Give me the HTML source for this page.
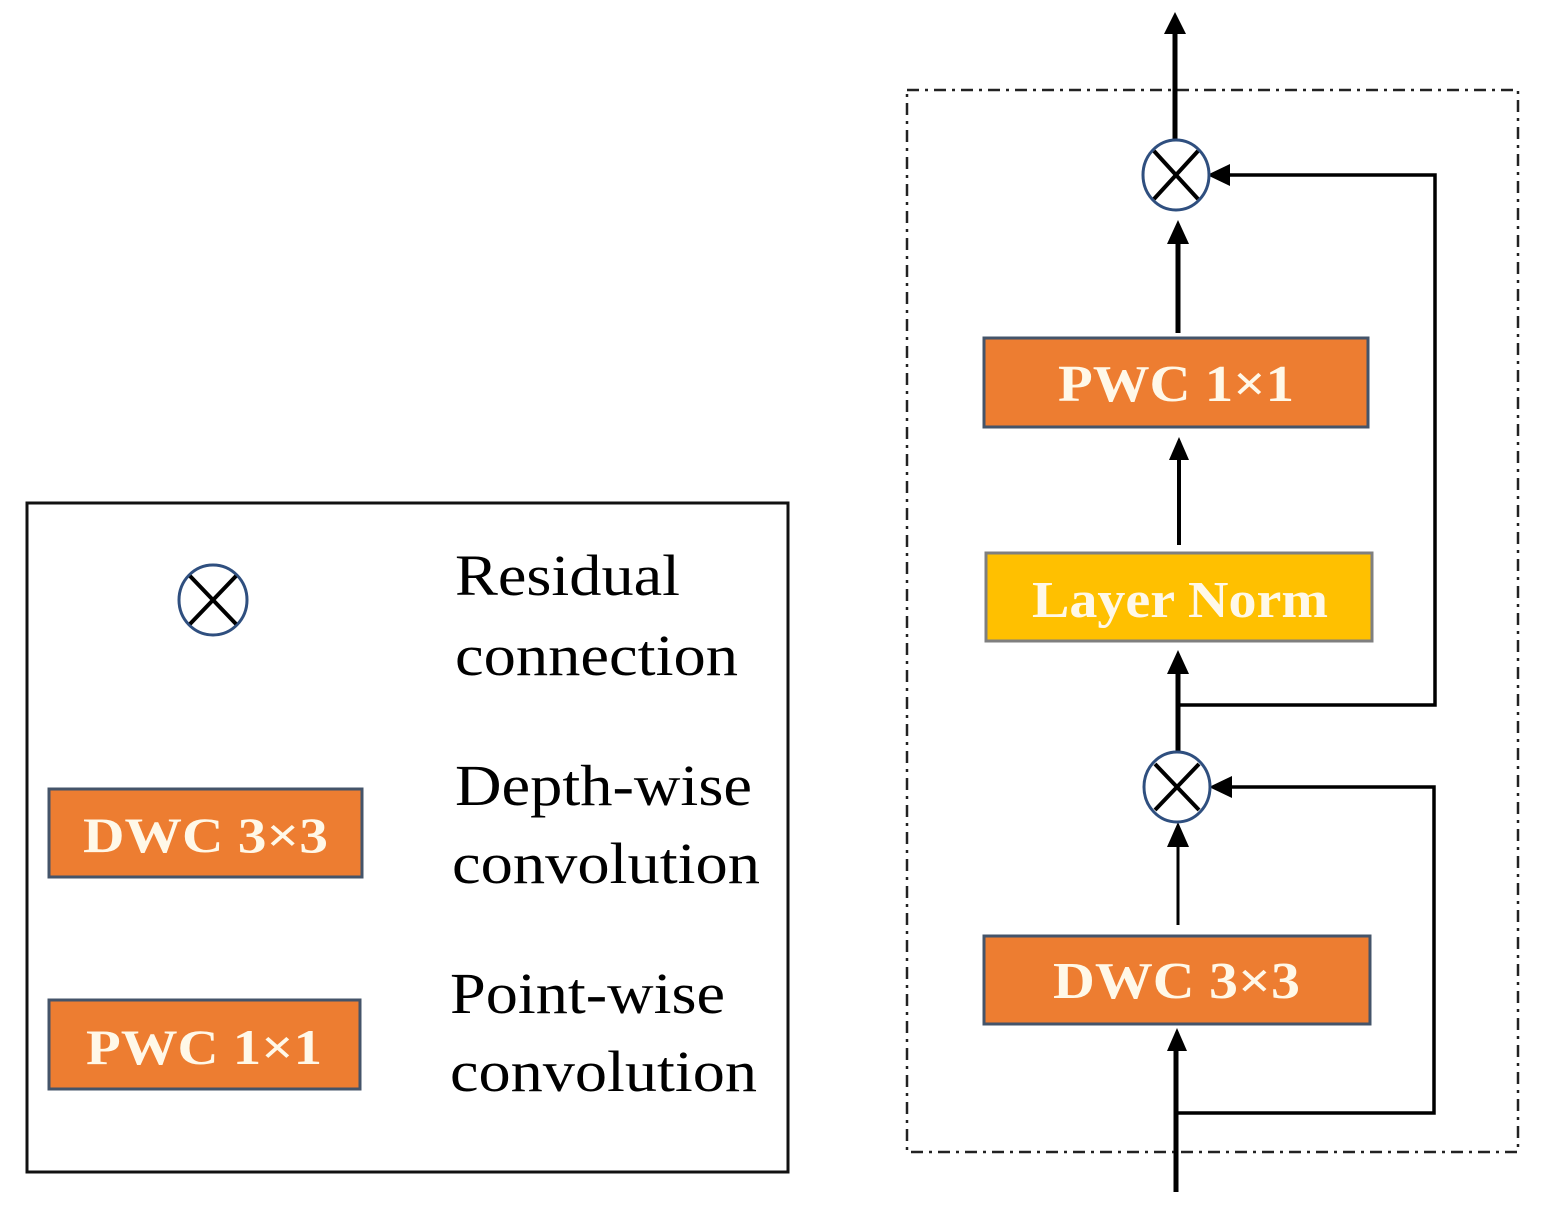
<!DOCTYPE html>
<html><head><style>html,body{margin:0;padding:0;background:#fff;}</style></head>
<body>
<svg width="1552" height="1218" viewBox="0 0 1552 1218" xmlns="http://www.w3.org/2000/svg" font-family="'Liberation Serif', serif">
<!-- legend -->
<rect x="27" y="503" width="761" height="669" fill="none" stroke="#111" stroke-width="3"/>
<ellipse cx="213" cy="600" rx="34" ry="35" fill="none" stroke="#2f4f7f" stroke-width="3"/>
<line x1="190" y1="576" x2="236" y2="624" stroke="#000" stroke-width="4"/>
<line x1="236" y1="576" x2="190" y2="624" stroke="#000" stroke-width="4"/>
<g font-size="58" fill="#000">
<text x="455" y="595" textLength="225" lengthAdjust="spacingAndGlyphs">Residual</text>
<text x="455" y="675" textLength="283" lengthAdjust="spacingAndGlyphs">connection</text>
<text x="455" y="805" textLength="297" lengthAdjust="spacingAndGlyphs">Depth-wise</text>
<text x="452" y="883" textLength="308" lengthAdjust="spacingAndGlyphs">convolution</text>
<text x="450" y="1013" textLength="275" lengthAdjust="spacingAndGlyphs">Point-wise</text>
<text x="450" y="1091" textLength="307" lengthAdjust="spacingAndGlyphs">convolution</text>
</g>
<rect x="49" y="789" width="313" height="88" fill="#ED7D31" stroke="#44546A" stroke-width="3"/>
<text x="83" y="852" font-size="50" font-weight="bold" fill="#FFF8E8" textLength="245" lengthAdjust="spacingAndGlyphs">DWC 3×3</text>
<rect x="49" y="1000" width="311" height="89" fill="#ED7D31" stroke="#44546A" stroke-width="3"/>
<text x="86" y="1064" font-size="50" font-weight="bold" fill="#FFF8E8" textLength="236" lengthAdjust="spacingAndGlyphs">PWC 1×1</text>

<!-- dashed frame -->
<rect x="907" y="90" width="611" height="1062" fill="none" stroke="#222" stroke-width="2.5" stroke-dasharray="12,6,3,6"/>

<g stroke="#000" fill="none">
<line x1="1175" y1="140" x2="1175" y2="32" stroke-width="5"/>
<line x1="1178" y1="333" x2="1178" y2="240" stroke-width="5"/>
<polyline points="1228,175 1435,175 1435,705 1180,705" stroke-width="3.5"/>
<line x1="1179" y1="545" x2="1179" y2="455" stroke-width="4"/>
<line x1="1178" y1="752" x2="1178" y2="670" stroke-width="5"/>
<polyline points="1228,787 1434,787 1434,1113 1175,1113" stroke-width="3.5"/>
<line x1="1178" y1="925" x2="1178" y2="845" stroke-width="3"/>
<line x1="1176" y1="1192" x2="1176" y2="1045" stroke-width="5"/>
</g>
<g fill="#000">
<polygon points="1175,12 1164,34 1186,34"/>
<polygon points="1178,220 1167,244 1189,244"/>
<polygon points="1207,175 1230,164 1230,186"/>
<polygon points="1179,437 1169,460 1189,460"/>
<polygon points="1178,650 1167,674 1189,674"/>
<polygon points="1209,787 1232,776 1232,798"/>
<polygon points="1178,822 1167,847 1189,847"/>
<polygon points="1177,1028 1167,1051 1187,1051"/>
</g>
<ellipse cx="1176" cy="175" rx="33" ry="35" fill="#fff" stroke="#2f4f7f" stroke-width="3"/>
<line x1="1154" y1="151" x2="1198" y2="199" stroke="#000" stroke-width="4"/>
<line x1="1198" y1="151" x2="1154" y2="199" stroke="#000" stroke-width="4"/>
<ellipse cx="1177" cy="787" rx="33" ry="35" fill="#fff" stroke="#2f4f7f" stroke-width="3"/>
<line x1="1155" y1="764" x2="1199" y2="810" stroke="#000" stroke-width="4"/>
<line x1="1199" y1="764" x2="1155" y2="810" stroke="#000" stroke-width="4"/>

<rect x="984" y="338" width="384" height="89" fill="#ED7D31" stroke="#44546A" stroke-width="3"/>
<text x="1058" y="401" font-size="52" font-weight="bold" fill="#FFF8E8" textLength="236" lengthAdjust="spacingAndGlyphs">PWC 1×1</text>
<rect x="986" y="553" width="386" height="88" fill="#FFC000" stroke="#7f7f7f" stroke-width="3"/>
<text x="1032" y="617" font-size="52" font-weight="bold" fill="#FFF8E8" textLength="296" lengthAdjust="spacingAndGlyphs">Layer Norm</text>
<rect x="984" y="936" width="386" height="88" fill="#ED7D31" stroke="#44546A" stroke-width="3"/>
<text x="1053" y="998" font-size="52" font-weight="bold" fill="#FFF8E8" textLength="247" lengthAdjust="spacingAndGlyphs">DWC 3×3</text>
</svg>
</body></html>
